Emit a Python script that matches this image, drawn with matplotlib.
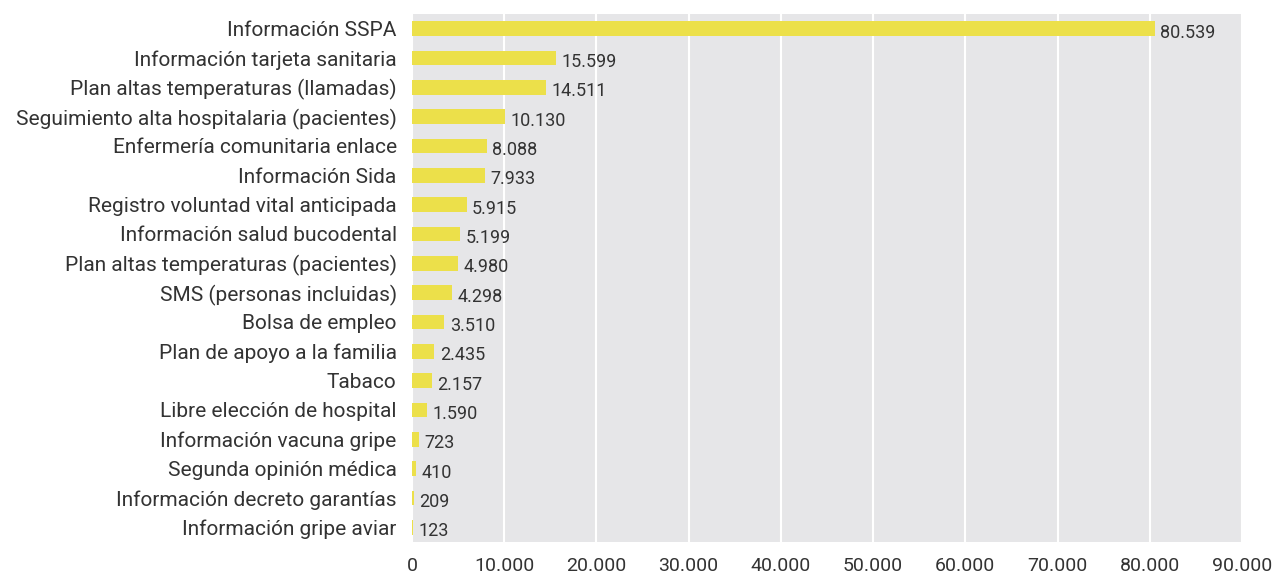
import matplotlib.pyplot as plt
from matplotlib.ticker import FuncFormatter

servicios = [
    "Información SSPA",
    "Información tarjeta sanitaria",
    "Plan altas temperaturas (llamadas)",
    "Seguimiento alta hospitalaria (pacientes)",
    "Enfermería comunitaria enlace",
    "Información Sida",
    "Registro voluntad vital anticipada",
    "Información salud bucodental",
    "Plan altas temperaturas (pacientes)",
    "SMS (personas incluidas)",
    "Bolsa de empleo",
    "Plan de apoyo a la familia",
    "Tabaco",
    "Libre elección de hospital",
    "Información vacuna gripe",
    "Segunda opinión médica",
    "Información decreto garantías",
    "Información gripe aviar",
]
llamadas = [80539, 15599, 14511, 10130, 8088, 7933, 5915, 5199, 4980,
            4298, 3510, 2435, 2157, 1590, 723, 410, 209, 123]
ticks_x = [0, 10000, 20000, 30000, 40000, 50000, 60000, 70000, 80000, 90000]

def miles(v):
    return f"{int(v):,}".replace(",", ".")

plt.rcParams['font.family'] = ['Roboto', 'DejaVu Sans']
fig = plt.figure(figsize=(12.77, 5.73), dpi=100)
ax = fig.add_axes([412 / 1277, 31 / 573, 830 / 1277, 528 / 573])

pos = list(range(len(servicios)))
ax.barh(pos, llamadas, height=0.5, color="#ECE04A", zorder=3)
ax.set_yticks(pos)
ax.set_yticklabels(servicios, fontsize=15, color="#333333")
ax.set_ylim(len(servicios) - 0.5, -0.5)

ax.set_xlim(0, 90000)
ax.set_xticks(ticks_x)
ax.xaxis.set_major_formatter(FuncFormatter(lambda v, p: miles(v)))
ax.tick_params(axis="x", labelsize=14, colors="#333333", length=0, pad=11)
ax.tick_params(axis="y", length=0, pad=11)

ax.set_facecolor("#E6E6E8")
ax.grid(axis="x", color="white", linewidth=1.5, zorder=1)
ax.set_axisbelow(True)
for s in ax.spines.values():
    s.set_visible(False)

for y, v in zip(pos, llamadas):
    ax.annotate(miles(v), (v, y), xytext=(4, -3), textcoords="offset points",
                va="center", ha="left", fontsize=13, color="#333333")

fig.savefig("out.png", dpi=100)
